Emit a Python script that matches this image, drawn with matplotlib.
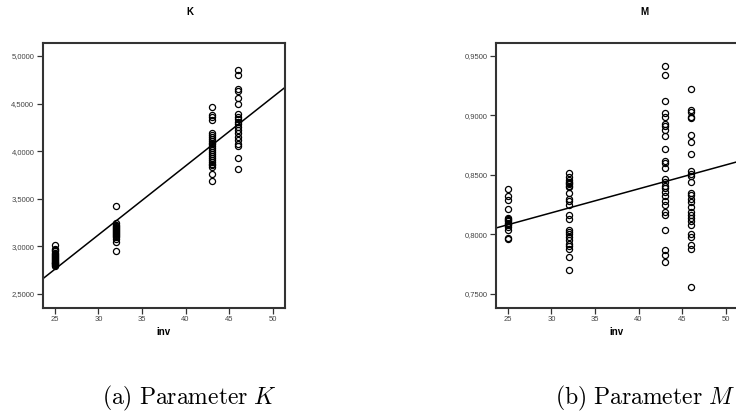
import numpy as np
import matplotlib
matplotlib.use('Agg')
import matplotlib.pyplot as plt
from matplotlib.ticker import FuncFormatter

# inv groups on the x axis
inv_levels = [25, 32, 43, 46]

# Parameter K for each inv group
k_25 = [3.01, 2.97, 2.96, 2.95, 2.93, 2.92, 2.91, 2.90, 2.89, 2.88,
        2.87, 2.86, 2.85, 2.84, 2.83, 2.82, 2.81, 2.80, 2.79]
k_32 = [3.42, 3.24, 3.22, 3.21, 3.20, 3.19, 3.18, 3.17, 3.16, 3.15,
        3.14, 3.13, 3.12, 3.11, 3.10, 3.08, 3.05, 2.95]
k_43 = [4.46, 4.38, 4.36, 4.33, 4.19, 4.17, 4.15, 4.13, 4.11, 4.09,
        4.07, 4.05, 4.03, 4.01, 3.99, 3.97, 3.95, 3.93, 3.91, 3.89,
        3.87, 3.85, 3.83, 3.76, 3.69]
k_46 = [4.85, 4.80, 4.65, 4.63, 4.56, 4.50, 4.39, 4.36, 4.34, 4.31,
        4.28, 4.25, 4.22, 4.19, 4.15, 4.12, 4.08, 4.05, 3.93, 3.81]

# Parameter M
m_25 = [0.838, 0.832, 0.829, 0.821, 0.814, 0.813, 0.812, 0.811, 0.810,
        0.809, 0.808, 0.806, 0.804, 0.797, 0.796]
m_32 = [0.852, 0.848, 0.846, 0.844, 0.843, 0.842, 0.841, 0.840, 0.835,
        0.830, 0.828, 0.825, 0.816, 0.813, 0.804, 0.802, 0.800, 0.798,
        0.795, 0.792, 0.790, 0.788, 0.781, 0.770]
m_43 = [0.942, 0.934, 0.912, 0.902, 0.899, 0.893, 0.891, 0.888, 0.883,
        0.872, 0.862, 0.860, 0.856, 0.847, 0.844, 0.841, 0.839, 0.836,
        0.832, 0.828, 0.825, 0.819, 0.816, 0.804, 0.787, 0.783, 0.777]
m_46 = [0.922, 0.905, 0.903, 0.899, 0.898, 0.884, 0.878, 0.868, 0.853,
        0.851, 0.849, 0.844, 0.835, 0.833, 0.830, 0.827, 0.823, 0.819,
        0.816, 0.814, 0.811, 0.808, 0.800, 0.798, 0.791, 0.788, 0.756]

# fit lines as drawn in the source (slope, intercept)
k_fit = [0.0723, 0.952]
m_fit = [0.00201, 0.7579]

x_ticks = [25, 30, 35, 40, 45, 50]
k_ticks = [2.5, 3.0, 3.5, 4.0, 4.5, 5.0]
m_ticks = [0.75, 0.80, 0.85, 0.90, 0.95]

panel_titles = ['K', 'M']
captions = [r'$\mathrm{(a)\ Parameter}\ K$', r'$\mathrm{(b)\ Parameter}\ M$']

plt.rcParams['font.family'] = ['Liberation Sans', 'DejaVu Sans']
plt.rcParams['mathtext.fontset'] = 'cm'

FRAME = '#333333'
TICKTXT = '#444444'


def comma_fmt(val, pos):
    # SPSS style decimal comma, four places
    return '{:.4f}'.format(val).replace('.', ',')


def scatter_panel(ax, groups, fit, yticks, ylim):
    xs = []
    ys = []
    for level, vals in zip(inv_levels, groups):
        xs += [level] * len(vals)
        ys += vals

    ax.plot(xs, ys, 'o', markersize=4.4, markerfacecolor='none',
            markeredgecolor='black', markeredgewidth=0.9, zorder=3)

    # regression line across the whole frame
    xlim = (23.6, 51.4)
    xl = np.array(xlim)
    ax.plot(xl, fit[0] * xl + fit[1], color='black', lw=1.1, zorder=2)

    ax.set_xlim(xlim)
    ax.set_ylim(ylim)
    ax.set_xticks(x_ticks)
    ax.set_yticks(yticks)
    ax.yaxis.set_major_formatter(FuncFormatter(comma_fmt))
    ax.tick_params(direction='out', length=4, width=0.9, color=FRAME,
                   labelsize=5.5, labelcolor=TICKTXT, pad=2)
    for sp in ax.spines.values():
        sp.set_linewidth(1.5)
        sp.set_color(FRAME)
    ax.set_xlabel('inv', fontsize=7, fontweight='bold', labelpad=3)


fig = plt.figure(figsize=(7.36, 4.15), dpi=100)

ax_k = fig.add_axes([0.058, 0.258, 0.329, 0.6386])
scatter_panel(ax_k, [k_25, k_32, k_43, k_46], k_fit, k_ticks, (2.353, 5.137))

ax_m = fig.add_axes([0.6735, 0.258, 0.329, 0.6386])
scatter_panel(ax_m, [m_25, m_32, m_43, m_46], m_fit, m_ticks, (0.7382, 0.961))

fig.text(190 / 736, 1 - 12 / 415, panel_titles[0], ha='center', va='center',
         fontsize=7, fontweight='bold')
fig.text(644 / 736, 1 - 12 / 415, panel_titles[1], ha='center', va='center',
         fontsize=7, fontweight='bold')

fig.text(189 / 736, 1 - 398 / 415, captions[0], ha='center', va='center',
         fontsize=17)
fig.text(645 / 736, 1 - 398 / 415, captions[1], ha='center', va='center',
         fontsize=17)

fig.savefig('out.png', dpi=100)
